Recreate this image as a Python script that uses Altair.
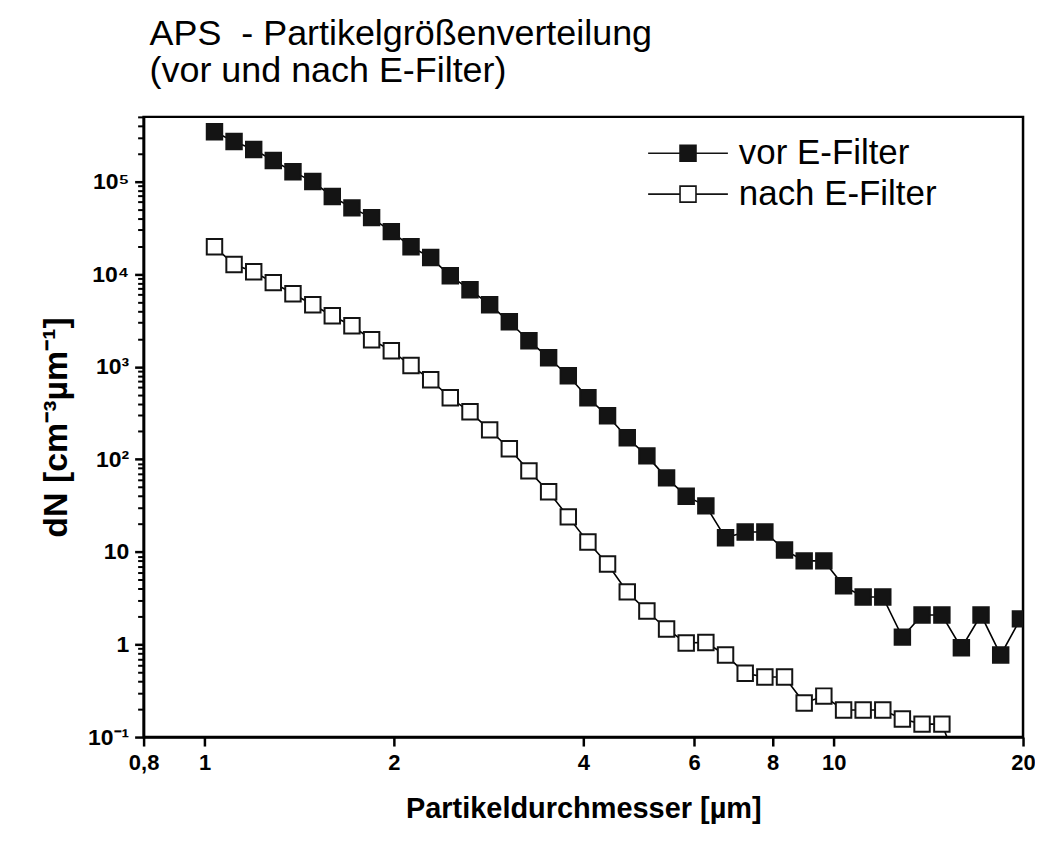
import altair as alt
import pandas as pd

# APS channel midpoints (µm)
diameter = [1.037, 1.114, 1.197, 1.286, 1.382, 1.486, 1.596, 1.715, 1.843, 1.981,
            2.129, 2.288, 2.458, 2.642, 2.839, 3.051, 3.278, 3.523, 3.786, 4.068,
            4.371, 4.698, 5.048, 5.425, 5.829, 6.264, 6.732, 7.234, 7.774, 8.354,
            8.977, 9.647, 10.37, 11.14, 11.97, 12.86, 13.82, 14.86, 15.96, 17.15,
            18.43, 19.81]

vor_filter = [3.45e5, 2.71e5, 2.22e5, 1.69e5, 1.28e5, 1.0e5, 6.9e4, 5.2e4, 4.08e4, 2.88e4,
              1.98e4, 1.51e4, 9.6e3, 6.8e3, 4.68e3, 3.06e3, 1.91e3, 1.25e3, 800, 462,
              295, 171, 109, 63, 40, 31.4, 14.2, 16.4, 16.4, 10.5,
              8.0, 8.0, 4.3, 3.26, 3.26, 1.2, 2.08, 2.08, 0.92, 2.08,
              0.77, 1.89]

nach_filter = [1.98e4, 1.27e4, 1.06e4, 8.1e3, 6.15e3, 4.68e3, 3.56e3, 2.77e3, 1.96e3, 1.49e3,
               1.03e3, 723, 462, 326, 208, 130, 75, 44.6, 23.9, 12.8,
               7.4, 3.7, 2.3, 1.47, 1.04, 1.05, 0.77, 0.49, 0.445, 0.445,
               0.233, 0.277, 0.196, 0.196, 0.196, 0.157, 0.138, 0.138, 0.04]

series_names = ["vor E-Filter", "nach E-Filter"]
series_fill = ["#141414", "#ffffff"]

x_ticks = [0.8, 1, 2, 4, 6, 8, 10, 20]
y_major = [0.1, 1, 10, 100, 1000, 10000, 100000]
y_minor = [round(m * 10.0 ** e, 6) for e in range(-1, 6) for m in range(2, 10)
           if m * 10.0 ** e <= 5e5]

rows = []
for d, v in zip(diameter, vor_filter):
    rows.append({"d": d, "n": v, "serie": series_names[0]})
for d, v in zip(diameter, nach_filter):
    rows.append({"d": d, "n": v, "serie": series_names[1]})
df = pd.DataFrame(rows)

FONT = "Liberation Sans"

x_scale = alt.Scale(type="log", domain=[0.8, 20], nice=False)
y_scale = alt.Scale(type="log", domain=[0.1, 5e5], nice=False)

x_axis = alt.Axis(
    values=x_ticks,
    labelExpr="datum.value < 0.9 ? '0,8' : format(datum.value, 'd')",
    title="Partikeldurchmesser [µm]",
    titleFont=FONT, titleFontSize=29, titleFontWeight="bold", titlePadding=21,
    labelFont=FONT, labelFontSize=22, labelFontWeight="bold", labelPadding=7,
    tickSize=9, tickWidth=2.5, grid=False, labelFlush=False, labelOverlap=False,
)

y_axis_major = alt.Axis(
    values=y_major, orient="left",
    labelExpr=("datum.value < 0.5 ? '10⁻¹' : datum.value < 5 ? '1' : datum.value < 50 ? '10' : "
               "datum.value < 500 ? '10²' : datum.value < 5000 ? '10³' : "
               "datum.value < 50000 ? '10⁴' : '10⁵'"),
    title="dN [cm⁻³µm⁻¹]",
    titleFont=FONT, titleFontSize=34, titleFontWeight="bold", titlePadding=14,
    labelFont=FONT, labelFontSize=23, labelFontWeight="bold", labelPadding=6,
    tickSize=9, tickWidth=2.5, grid=False, labelFlush=False, labelOverlap=False,
)

y_axis_minor = alt.Axis(
    values=y_minor, orient="left", labels=False, title=None, domain=False,
    tickSize=6, tickWidth=2, grid=False,
)

lines = alt.Chart(df).mark_line(color="black", strokeWidth=1.6, clip=True).encode(
    x=alt.X("d:Q", scale=x_scale, axis=x_axis),
    y=alt.Y("n:Q", scale=y_scale, axis=y_axis_minor),
    detail="serie:N",
    order="d:Q",
)

points = alt.Chart(df).mark_point(
    shape="square", filled=True, size=240, stroke="#141414", strokeWidth=2,
    opacity=1, clip=True,
).encode(
    x=alt.X("d:Q", scale=x_scale, axis=x_axis),
    y=alt.Y("n:Q", scale=y_scale, axis=y_axis_major),
    fill=alt.Fill(
        "serie:N",
        scale=alt.Scale(domain=series_names, range=series_fill),
        legend=alt.Legend(
            title=None, orient="none", legendX=505, legendY=16,
            symbolType="M-1,0H-0.22M0.22,0H1M-0.2,-0.2H0.2V0.2H-0.2Z",
            symbolSize=6400, symbolStrokeColor="#141414", symbolStrokeWidth=1.6,
            clipHeight=41, rowPadding=0, labelOffset=10, labelLimit=400,
            labelFont=FONT, labelFontSize=35, labelColor="black",
        ),
    ),
)

chart = alt.layer(lines, points).resolve_axis(y="independent").properties(
    width=882, height=622,
    background="white",
    autosize=alt.AutoSizeParams(type="none"),
    padding={"left": 136, "top": 108, "right": 12, "bottom": 86},
    title=alt.Title(
        ["APS\u00a0 - Partikelgrößenverteilung", "(vor und nach E-Filter)"],
        anchor="start", frame="group", font=FONT, fontSize=36, fontWeight="normal",
        color="black", lineHeight=37, offset=26, dx=6,
    ),
).configure_view(
    stroke="black", strokeWidth=2.5
).configure_axis(
    domainColor="black", domainWidth=2.5, tickColor="black",
    labelColor="black", titleColor="black",
)

chart.save("out.html", embed_options={"renderer": "svg", "actions": False})
